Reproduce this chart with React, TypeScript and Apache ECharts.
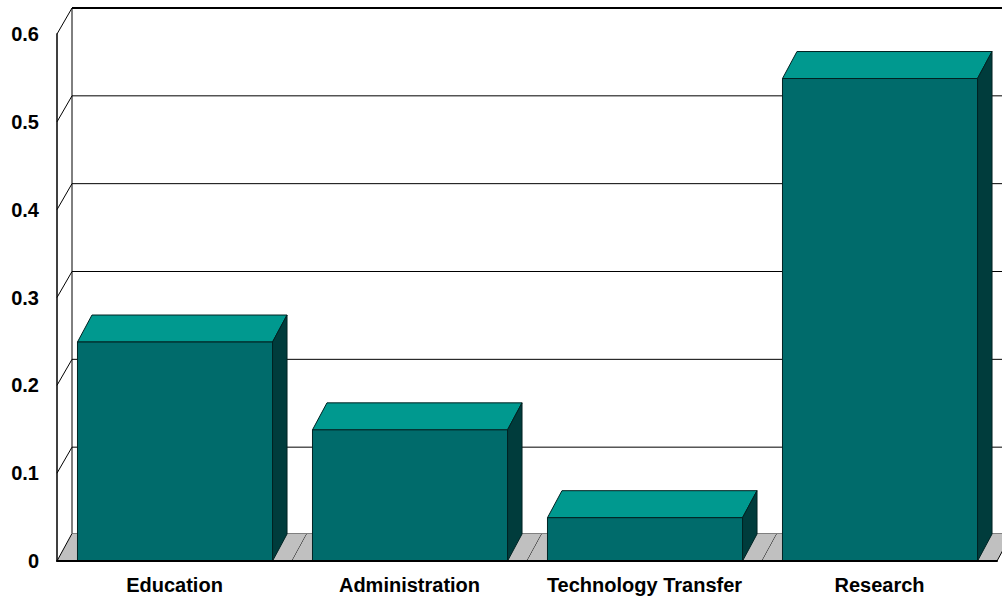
import React, { useEffect, useRef } from "react";
import * as echarts from "echarts";

const categories = ["Education", "Administration", "Technology Transfer", "Research"];
const values = [0.25, 0.15, 0.05, 0.55];
const ticks = [0, 0.1, 0.2, 0.3, 0.4, 0.5, 0.6];

const DX = 15;
const WALL_DY = -26;
const FLOOR_DY = -27.5;
const BAR_DX = 14.5;
const BAR_DY = -27;
const FONT = '"Liberation Sans", Arial, sans-serif';
const LABEL_SIZE = 20;

export default function App() {
  const ref = useRef<HTMLDivElement>(null);
  useEffect(() => {
    const chart = echarts.init(ref.current!, undefined, { renderer: "svg" });
    const grid = { left: 57, top: 34, width: 940, height: 527 };
    chart.setOption({
      animation: false,
      backgroundColor: "#ffffff",
      grid,
      xAxis: {
        type: "category",
        data: categories,
        z: 10,
        axisTick: { show: false },
        axisLine: { show: true, lineStyle: { color: "#000000", width: 2 } },
        axisLabel: { color: "#000000", fontFamily: FONT, fontWeight: "bold", fontSize: LABEL_SIZE, margin: 14, interval: 0 },
      },
      yAxis: {
        type: "value",
        min: 0,
        max: 0.6,
        interval: 0.1,
        z: 10,
        splitLine: { show: false },
        axisTick: { show: false },
        axisLine: { show: true, onZero: false, lineStyle: { color: "#000000", width: 1.5 } },
        axisLabel: { color: "#000000", fontFamily: FONT, fontWeight: "bold", fontSize: LABEL_SIZE, margin: 18 },
      },
      series: [
        {
          // Floor
          type: "custom",
          z: 1,
          clip: false,
          silent: true,
          data: categories.map((_, i) => [i, 0]),
          encode: { x: 0, y: 1 },
          renderItem: (_p: any, api: any) => {
            const c = api.coord([api.value(0), 0]);
            const w = api.size([1, 0])[0];
            const x0 = c[0] - w / 2;
            const x1 = c[0] + w / 2;
            const y = c[1];
            return {
              type: "group",
              children: [
                {
                  type: "polygon",
                  shape: { points: [[x0, y], [x0 + DX, y + FLOOR_DY], [x1 + DX, y + FLOOR_DY], [x1, y]] },
                  style: { fill: "#c0c0c0", stroke: "none" },
                },
                {
                  type: "line",
                  shape: { x1: x1, y1: y, x2: x1 + DX, y2: y + FLOOR_DY },
                  style: { stroke: "#000000", lineWidth: 1 },
                },
              ],
            };
          },
        },
        {
          // Walls and gridlines
          type: "custom",
          z: 2,
          clip: false,
          silent: true,
          data: ticks.map((t) => [0, t]),
          encode: { x: 0, y: 1 },
          renderItem: (_p: any, api: any) => {
            const t = api.value(1);
            const p = api.coord([0, t]);
            const w = api.size([1, 0])[0];
            const x = p[0] - w / 2;
            const y = p[1];
            const isTop = t >= 0.6;
            const isBottom = t <= 0;
            const dy = isBottom ? FLOOR_DY : WALL_DY;
            const children: any[] = [
              {
                type: "line",
                shape: { x1: x, y1: y, x2: x + DX, y2: y + dy },
                style: { stroke: "#000000", lineWidth: 1 },
              },
              {
                type: "line",
                shape: { x1: x + DX, y1: y + dy, x2: x + DX + 4 * w, y2: y + dy },
                style: { stroke: isBottom ? "#808080" : "#000000", lineWidth: isTop ? 2 : 1 },
              },
            ];
            if (isBottom) {
              const top = api.coord([0, 0.6])[1];
              children.push({
                type: "line",
                shape: { x1: x + DX, y1: y + dy, x2: x + DX, y2: top + WALL_DY },
                style: { stroke: "#000000", lineWidth: 1 },
              });
            }
            return { type: "group", children };
          },
        },
        {
          // Bars
          type: "custom",
          z: 3,
          clip: false,
          silent: true,
          data: values.map((v, i) => [i, v]),
          encode: { x: 0, y: 1 },
          renderItem: (_p: any, api: any) => {
            const top = api.coord([api.value(0), api.value(1)]);
            const base = api.coord([api.value(0), 0]);
            const bw = api.size([1, 0])[0] * 0.83;
            const l = top[0] - bw / 2 + 0.5;
            const r = top[0] + bw / 2 + 0.5;
            const t = top[1] + 0.6;
            const edge = { stroke: "#002222", lineWidth: 1 };
            return {
              type: "group",
              children: [
                {
                  type: "polygon",
                  shape: { points: [[l, t], [l + BAR_DX, t + BAR_DY], [r + BAR_DX, t + BAR_DY], [r, t]] },
                  style: { fill: "#00998f", ...edge },
                },
                {
                  type: "polygon",
                  shape: { points: [[r, t], [r + BAR_DX, t + BAR_DY], [r + BAR_DX, base[1] + BAR_DY], [r, base[1]]] },
                  style: { fill: "#003c3c", ...edge },
                },
                {
                  type: "rect",
                  shape: { x: l, y: t, width: bw, height: base[1] - t },
                  style: { fill: "#006b6b", ...edge },
                },
              ],
            };
          },
        },
      ],
    });
    return () => chart.dispose();
  }, []);
  return <div ref={ref} style={{ width: 1002, height: 597, position: "absolute", left: 0, top: 0 }} />;
}
